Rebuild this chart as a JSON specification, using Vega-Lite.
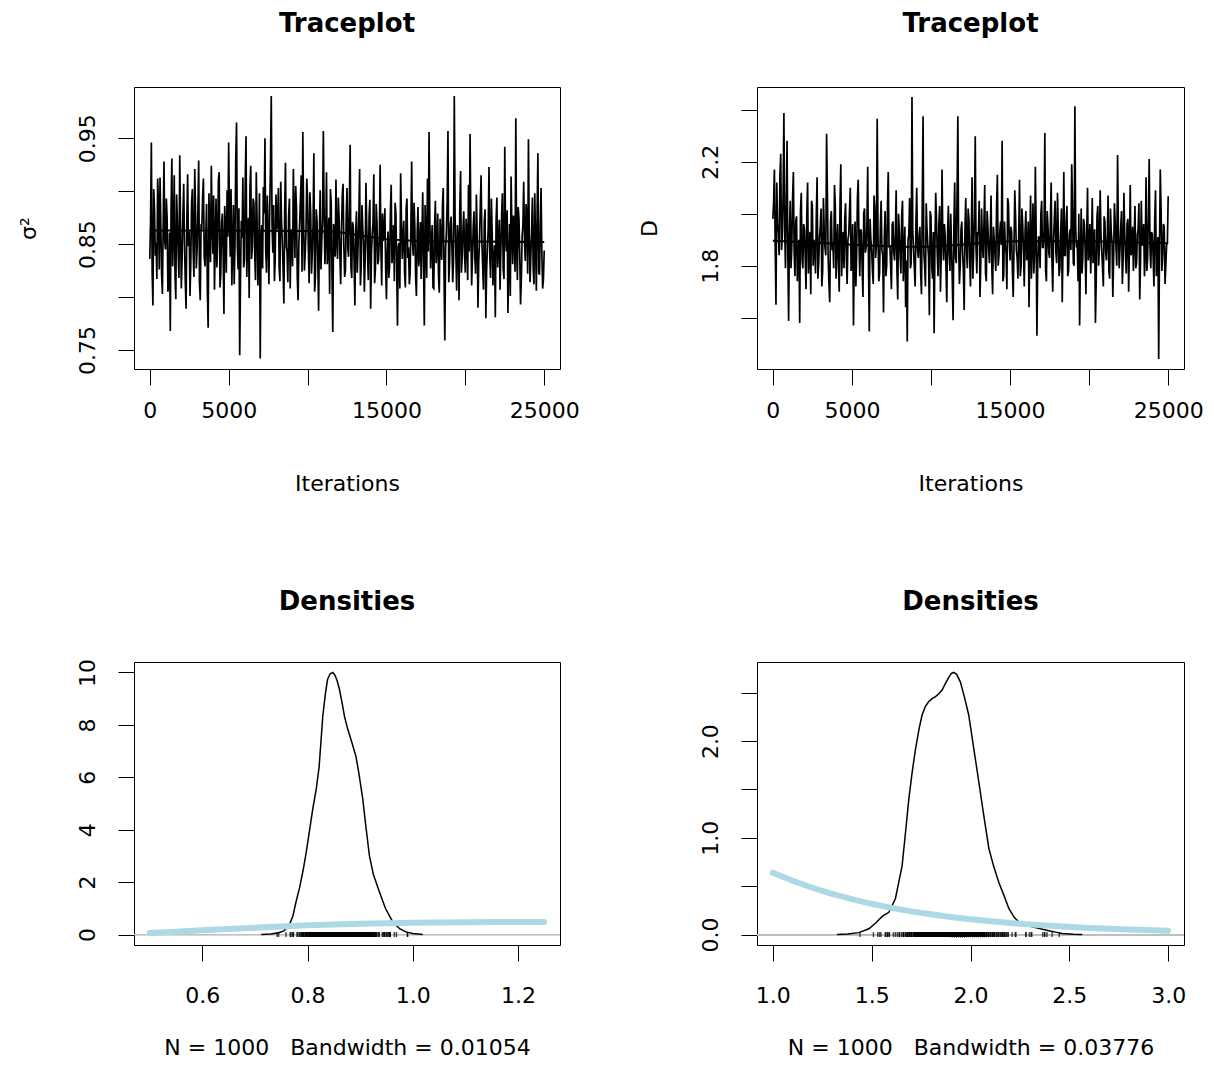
{
  "$schema": "https://vega.github.io/schema/vega-lite/v6.json",
  "background": "white",
  "padding": {"left": 16, "top": 10, "right": 5, "bottom": 5},
  "columns": 2,
  "spacing": {"row": 293, "column": 197},
  "bounds": "flush",
  "config": {
    "font": "DejaVu Sans",
    "view": {"stroke": "black", "strokeWidth": 1},
    "axis": {"domain": false, "grid": false, "tickColor": "black", "tickSize": 16, "tickWidth": 1, "labelFont": "DejaVu Sans", "labelFontSize": 22, "labelColor": "black", "titleFont": "DejaVu Sans", "titleFontSize": 22, "titleFontWeight": "normal", "titleColor": "black", "labelFlush": false, "labelOverlap": false, "labelBound": false},
    "axisX": {"labelBaseline": "alphabetic", "labelAlign": "center", "titleBaseline": "alphabetic", "titleAlign": "center"},
    "axisY": {"labelAngle": 270, "labelAlign": "center", "labelBaseline": "alphabetic", "labelPadding": 24, "titleAngle": 270, "titleAlign": "center", "titleBaseline": "alphabetic", "titleX": -99},
    "title": {"font": "DejaVu Sans", "fontSize": 26, "fontWeight": "bold", "color": "black", "baseline": "alphabetic", "offset": 50, "anchor": "middle"}
  },
  "datasets": {
    "trace": [
      {"i":0,"s":0.836,"d":1.98},{"i":100,"s":0.946,"d":2.17},{"i":200,"s":0.792,"d":1.65},{"i":300,"s":0.883,"d":1.96},{"i":400,"s":0.851,"d":1.84},{"i":500,"s":0.912,"d":2.23},{"i":600,"s":0.826,"d":1.91},{"i":700,"s":0.869,"d":2.387},{"i":800,"s":0.803,"d":1.79},{"i":900,"s":0.928,"d":2.28},
      {"i":1000,"s":0.845,"d":1.588},{"i":1100,"s":0.874,"d":2.05},{"i":1200,"s":0.812,"d":1.87},{"i":1300,"s":0.768,"d":2.16},{"i":1400,"s":0.931,"d":1.76},{"i":1500,"s":0.856,"d":1.99},{"i":1600,"s":0.821,"d":1.83},{"i":1700,"s":0.897,"d":1.58},{"i":1800,"s":0.842,"d":2.08},{"i":1900,"s":0.934,"d":1.79},
      {"i":2000,"s":0.808,"d":1.94},{"i":2100,"s":0.877,"d":1.71},{"i":2200,"s":0.851,"d":2.12},{"i":2300,"s":0.789,"d":1.85},{"i":2400,"s":0.916,"d":1.69},{"i":2500,"s":0.862,"d":2.03},{"i":2600,"s":0.833,"d":1.9},{"i":2700,"s":0.902,"d":1.77},{"i":2800,"s":0.819,"d":2.14},{"i":2900,"s":0.881,"d":1.81},
      {"i":3000,"s":0.846,"d":1.95},{"i":3100,"s":0.929,"d":1.72},{"i":3200,"s":0.797,"d":2.06},{"i":3300,"s":0.866,"d":1.87},{"i":3400,"s":0.912,"d":2.307},{"i":3500,"s":0.829,"d":1.83},{"i":3600,"s":0.888,"d":1.66},{"i":3700,"s":0.771,"d":2.01},{"i":3800,"s":0.858,"d":1.89},{"i":3900,"s":0.924,"d":2.11},
      {"i":4000,"s":0.841,"d":1.75},{"i":4100,"s":0.807,"d":1.96},{"i":4200,"s":0.893,"d":1.7},{"i":4300,"s":0.853,"d":2.19},{"i":4400,"s":0.918,"d":1.86},{"i":4500,"s":0.821,"d":1.79},{"i":4600,"s":0.879,"d":2.04},{"i":4700,"s":0.784,"d":1.73},{"i":4800,"s":0.864,"d":1.92},{"i":4900,"s":0.901,"d":2.1},
      {"i":5000,"s":0.946,"d":1.81},{"i":5100,"s":0.838,"d":1.57},{"i":5200,"s":0.811,"d":1.97},{"i":5300,"s":0.887,"d":1.84},{"i":5400,"s":0.849,"d":2.13},{"i":5500,"s":0.965,"d":1.76},{"i":5600,"s":0.826,"d":1.93},{"i":5700,"s":0.745,"d":1.68},{"i":5800,"s":0.872,"d":2.02},{"i":5900,"s":0.913,"d":1.87},
      {"i":6000,"s":0.835,"d":2.18},{"i":6100,"s":0.952,"d":1.547},{"i":6200,"s":0.861,"d":1.9},{"i":6300,"s":0.799,"d":1.78},{"i":6400,"s":0.924,"d":2.07},{"i":6500,"s":0.847,"d":1.83},{"i":6600,"s":0.889,"d":2.365},{"i":6700,"s":0.816,"d":1.74},{"i":6800,"s":0.871,"d":1.95},{"i":6900,"s":0.834,"d":1.86},
      {"i":7000,"s":0.742,"d":1.62},{"i":7100,"s":0.868,"d":2.01},{"i":7200,"s":0.904,"d":1.8},{"i":7300,"s":0.95,"d":2.16},{"i":7400,"s":0.823,"d":1.88},{"i":7500,"s":0.859,"d":1.71},{"i":7600,"s":0.881,"d":1.97},{"i":7700,"s":0.99,"d":1.82},{"i":7800,"s":0.842,"d":2.09},{"i":7900,"s":0.815,"d":1.67},
      {"i":8000,"s":0.897,"d":1.93},{"i":8100,"s":0.868,"d":1.77},{"i":8200,"s":0.828,"d":2.05},{"i":8300,"s":0.909,"d":1.85},{"i":8400,"s":0.851,"d":1.64},{"i":8500,"s":0.794,"d":1.509},{"i":8600,"s":0.927,"d":1.92},{"i":8700,"s":0.843,"d":1.79},{"i":8800,"s":0.876,"d":2.449},{"i":8900,"s":0.808,"d":1.86},
      {"i":9000,"s":0.864,"d":1.72},{"i":9100,"s":0.921,"d":2.1},{"i":9200,"s":0.837,"d":1.83},{"i":9300,"s":0.882,"d":1.95},{"i":9400,"s":0.797,"d":1.69},{"i":9500,"s":0.869,"d":2.375},{"i":9600,"s":0.915,"d":1.8},{"i":9700,"s":0.956,"d":2.04},{"i":9800,"s":0.825,"d":1.88},{"i":9900,"s":0.861,"d":1.61},
      {"i":10000,"s":0.894,"d":1.99},{"i":10100,"s":0.813,"d":1.75},{"i":10200,"s":0.878,"d":1.54},{"i":10300,"s":0.842,"d":2.08},{"i":10400,"s":0.936,"d":1.84},{"i":10500,"s":0.82,"d":1.96},{"i":10600,"s":0.872,"d":1.7},{"i":10700,"s":0.787,"d":2.17},{"i":10800,"s":0.901,"d":1.82},{"i":10900,"s":0.853,"d":1.91},
      {"i":11000,"s":0.957,"d":1.66},{"i":11100,"s":0.831,"d":2.03},{"i":11200,"s":0.918,"d":1.78},{"i":11300,"s":0.846,"d":1.87},{"i":11400,"s":0.803,"d":1.59},{"i":11500,"s":0.889,"d":2.12},{"i":11600,"s":0.767,"d":1.81},{"i":11700,"s":0.858,"d":2.375},{"i":11800,"s":0.911,"d":1.73},{"i":11900,"s":0.836,"d":1.94},
      {"i":12000,"s":0.874,"d":1.85},{"i":12100,"s":0.812,"d":1.63},{"i":12200,"s":0.896,"d":2.06},{"i":12300,"s":0.849,"d":1.79},{"i":12400,"s":0.825,"d":1.98},{"i":12500,"s":0.903,"d":1.72},{"i":12600,"s":0.838,"d":2.14},{"i":12700,"s":0.944,"d":1.86},{"i":12800,"s":0.818,"d":2.298},{"i":12900,"s":0.866,"d":1.77},
      {"i":13000,"s":0.792,"d":1.92},{"i":13100,"s":0.881,"d":1.68},{"i":13200,"s":0.847,"d":2.02},{"i":13300,"s":0.921,"d":1.83},{"i":13400,"s":0.829,"d":2.11},{"i":13500,"s":0.864,"d":1.74},{"i":13600,"s":0.805,"d":1.95},{"i":13700,"s":0.908,"d":1.81},{"i":13800,"s":0.842,"d":2.07},{"i":13900,"s":0.877,"d":1.69},
      {"i":14000,"s":0.789,"d":1.9},{"i":14100,"s":0.859,"d":1.78},{"i":14200,"s":0.916,"d":2.15},{"i":14300,"s":0.826,"d":1.84},{"i":14400,"s":0.871,"d":1.97},{"i":14500,"s":0.835,"d":2.28},{"i":14600,"s":0.925,"d":1.76},{"i":14700,"s":0.811,"d":1.88},{"i":14800,"s":0.853,"d":1.71},{"i":14900,"s":0.884,"d":2.04},
      {"i":15000,"s":0.798,"d":1.82},{"i":15100,"s":0.862,"d":1.93},{"i":15200,"s":0.829,"d":1.68},{"i":15300,"s":0.906,"d":2.09},{"i":15400,"s":0.844,"d":1.86},{"i":15500,"s":0.815,"d":1.75},{"i":15600,"s":0.879,"d":2.13},{"i":15700,"s":0.773,"d":1.8},{"i":15800,"s":0.851,"d":1.96},{"i":15900,"s":0.917,"d":1.72},
      {"i":16000,"s":0.836,"d":2.01},{"i":16100,"s":0.872,"d":1.85},{"i":16200,"s":0.809,"d":1.64},{"i":16300,"s":0.893,"d":2.07},{"i":16400,"s":0.847,"d":1.89},{"i":16500,"s":0.822,"d":1.77},{"i":16600,"s":0.928,"d":2.18},{"i":16700,"s":0.839,"d":1.531},{"i":16800,"s":0.866,"d":1.91},{"i":16900,"s":0.801,"d":1.79},
      {"i":17000,"s":0.885,"d":2.05},{"i":17100,"s":0.843,"d":1.87},{"i":17200,"s":0.817,"d":2.31},{"i":17300,"s":0.899,"d":1.74},{"i":17400,"s":0.773,"d":1.95},{"i":17500,"s":0.856,"d":1.83},{"i":17600,"s":0.912,"d":2.12},{"i":17700,"s":0.956,"d":1.7},{"i":17800,"s":0.827,"d":1.98},{"i":17900,"s":0.868,"d":1.85},
      {"i":18000,"s":0.808,"d":2.08},{"i":18100,"s":0.891,"d":1.76},{"i":18200,"s":0.845,"d":1.92},{"i":18300,"s":0.82,"d":1.66},{"i":18400,"s":0.874,"d":2.16},{"i":18500,"s":0.835,"d":1.84},{"i":18600,"s":0.903,"d":2.03},{"i":18700,"s":0.759,"d":1.78},{"i":18800,"s":0.861,"d":1.94},{"i":18900,"s":0.957,"d":2.19},
      {"i":19000,"s":0.832,"d":1.81},{"i":19100,"s":0.876,"d":2.413},{"i":19200,"s":0.814,"d":1.87},{"i":19300,"s":0.99,"d":1.74},{"i":19400,"s":0.841,"d":1.57},{"i":19500,"s":0.868,"d":2.02},{"i":19600,"s":0.797,"d":1.83},{"i":19700,"s":0.919,"d":1.96},{"i":19800,"s":0.837,"d":1.69},{"i":19900,"s":0.881,"d":2.1},
      {"i":20000,"s":0.823,"d":1.85},{"i":20100,"s":0.858,"d":1.77},{"i":20200,"s":0.906,"d":2.06},{"i":20300,"s":0.954,"d":1.88},{"i":20400,"s":0.811,"d":1.58},{"i":20500,"s":0.866,"d":1.99},{"i":20600,"s":0.838,"d":1.8},{"i":20700,"s":0.897,"d":2.09},{"i":20800,"s":0.79,"d":1.86},{"i":20900,"s":0.853,"d":1.72},
      {"i":21000,"s":0.915,"d":1.97},{"i":21100,"s":0.829,"d":1.82},{"i":21200,"s":0.871,"d":2.07},{"i":21300,"s":0.78,"d":1.75},{"i":21400,"s":0.847,"d":1.93},{"i":21500,"s":0.923,"d":1.68},{"i":21600,"s":0.818,"d":2.04},{"i":21700,"s":0.862,"d":1.87},{"i":21800,"s":0.835,"d":2.226},{"i":21900,"s":0.781,"d":1.79},
      {"i":22000,"s":0.894,"d":1.95},{"i":22100,"s":0.851,"d":1.73},{"i":22200,"s":0.807,"d":2.08},{"i":22300,"s":0.878,"d":1.84},{"i":22400,"s":0.826,"d":1.96},{"i":22500,"s":0.942,"d":1.7},{"i":22600,"s":0.843,"d":2.11},{"i":22700,"s":0.785,"d":1.86},{"i":22800,"s":0.869,"d":1.78},{"i":22900,"s":0.914,"d":2.03},
      {"i":23000,"s":0.831,"d":1.81},{"i":23100,"s":0.858,"d":1.94},{"i":23200,"s":0.969,"d":1.67},{"i":23300,"s":0.816,"d":2.05},{"i":23400,"s":0.874,"d":1.88},{"i":23500,"s":0.793,"d":1.76},{"i":23600,"s":0.857,"d":2.14},{"i":23700,"s":0.909,"d":1.83},{"i":23800,"s":0.834,"d":2.21},{"i":23900,"s":0.871,"d":1.79},
      {"i":24000,"s":0.949,"d":1.92},{"i":24100,"s":0.814,"d":1.72},{"i":24200,"s":0.862,"d":2.09},{"i":24300,"s":0.827,"d":1.85},{"i":24400,"s":0.898,"d":1.441},{"i":24500,"s":0.806,"d":2.17},{"i":24600,"s":0.936,"d":1.78},{"i":24700,"s":0.821,"d":1.96},{"i":24800,"s":0.903,"d":1.73},{"i":24900,"s":0.808,"d":1.88},
      {"i":25000,"s":0.844,"d":2.067},
      {"i":50,"s":0.871,"d":2.04},{"i":150,"s":0.824,"d":1.88},{"i":250,"s":0.902,"d":2.12},{"i":350,"s":0.839,"d":1.93},{"i":450,"s":0.817,"d":2.15},{"i":550,"s":0.887,"d":1.86},{"i":650,"s":0.913,"d":2.07},{"i":750,"s":0.821,"d":1.95},{"i":850,"s":0.868,"d":2.02},{"i":950,"s":0.852,"d":1.84},
      {"i":1050,"s":0.893,"d":1.92},{"i":1150,"s":0.805,"d":1.79},{"i":1250,"s":0.861,"d":2.06},{"i":1350,"s":0.884,"d":1.85},{"i":1450,"s":0.829,"d":1.97},{"i":1550,"s":0.915,"d":1.74},{"i":1650,"s":0.798,"d":1.9},{"i":1750,"s":0.872,"d":2.01},{"i":1850,"s":0.818,"d":1.82},{"i":1950,"s":0.866,"d":1.96},
      {"i":2050,"s":0.836,"d":1.83},{"i":2150,"s":0.907,"d":2.0},{"i":2250,"s":0.815,"d":1.77},{"i":2350,"s":0.874,"d":1.93},{"i":2450,"s":0.848,"d":2.05},{"i":2550,"s":0.801,"d":1.8},{"i":2650,"s":0.889,"d":1.88},{"i":2750,"s":0.843,"d":1.99},{"i":2850,"s":0.921,"d":1.75},{"i":2950,"s":0.827,"d":1.91},
      {"i":3050,"s":0.882,"d":2.02},{"i":3150,"s":0.814,"d":1.78},{"i":3250,"s":0.867,"d":1.94},{"i":3350,"s":0.895,"d":1.84},{"i":3450,"s":0.838,"d":2.08},{"i":3550,"s":0.859,"d":1.73},{"i":3650,"s":0.806,"d":1.97},{"i":3750,"s":0.898,"d":1.86},{"i":3850,"s":0.833,"d":1.79},{"i":3950,"s":0.871,"d":2.03},
      {"i":4050,"s":0.896,"d":1.87},{"i":4150,"s":0.852,"d":1.81},{"i":4250,"s":0.828,"d":2.04},{"i":4350,"s":0.911,"d":1.76},{"i":4450,"s":0.809,"d":1.93},{"i":4550,"s":0.869,"d":1.98},{"i":4650,"s":0.842,"d":1.83},{"i":4750,"s":0.886,"d":1.9},{"i":4850,"s":0.823,"d":2.01},{"i":4950,"s":0.857,"d":1.78},
      {"i":5050,"s":0.878,"d":1.96},{"i":5150,"s":0.902,"d":1.84},{"i":5250,"s":0.846,"d":1.72},{"i":5350,"s":0.812,"d":2.06},{"i":5450,"s":0.931,"d":1.89},{"i":5550,"s":0.848,"d":1.94},{"i":5650,"s":0.884,"d":1.79},{"i":5750,"s":0.817,"d":2.0},{"i":5850,"s":0.856,"d":1.85},{"i":5950,"s":0.828,"d":1.95},
      {"i":6050,"s":0.909,"d":1.81},{"i":6150,"s":0.819,"d":1.98},{"i":6250,"s":0.875,"d":1.86},{"i":6350,"s":0.904,"d":1.73},{"i":6450,"s":0.836,"d":2.02},{"i":6550,"s":0.893,"d":1.88},{"i":6650,"s":0.842,"d":1.93},{"i":6750,"s":0.918,"d":1.77},{"i":6850,"s":0.811,"d":2.05},{"i":6950,"s":0.898,"d":1.84},
      {"i":7050,"s":0.853,"d":1.91},{"i":7150,"s":0.827,"d":1.76},{"i":7250,"s":0.879,"d":2.03},{"i":7350,"s":0.844,"d":1.87},{"i":7450,"s":0.896,"d":1.8},{"i":7550,"s":0.812,"d":1.96},{"i":7650,"s":0.925,"d":1.85},{"i":7750,"s":0.868,"d":1.92},{"i":7850,"s":0.887,"d":1.78},{"i":7950,"s":0.836,"d":2.0},
      {"i":8050,"s":0.864,"d":1.84},{"i":8150,"s":0.903,"d":1.99},{"i":8250,"s":0.815,"d":1.74},{"i":8350,"s":0.872,"d":1.95},{"i":8450,"s":0.826,"d":1.82},{"i":8550,"s":0.881,"d":1.9},{"i":8650,"s":0.847,"d":2.06},{"i":8750,"s":0.814,"d":1.81},{"i":8850,"s":0.893,"d":1.93},{"i":8950,"s":0.858,"d":1.79},
      {"i":9050,"s":0.829,"d":1.97},{"i":9150,"s":0.876,"d":1.86},{"i":9250,"s":0.905,"d":1.91},{"i":9350,"s":0.818,"d":1.77},{"i":9450,"s":0.851,"d":2.04},{"i":9550,"s":0.893,"d":1.85},{"i":9650,"s":0.824,"d":1.72},{"i":9750,"s":0.874,"d":1.94},{"i":9850,"s":0.841,"d":1.83},{"i":9950,"s":0.912,"d":2.01},
      {"i":10050,"s":0.846,"d":1.8},{"i":10150,"s":0.899,"d":1.93},{"i":10250,"s":0.822,"d":1.87},{"i":10350,"s":0.868,"d":1.98},{"i":10450,"s":0.805,"d":1.76},{"i":10550,"s":0.883,"d":2.03},{"i":10650,"s":0.836,"d":1.84},{"i":10750,"s":0.861,"d":1.9},{"i":10850,"s":0.826,"d":1.96},{"i":10950,"s":0.874,"d":1.79},
      {"i":11050,"s":0.882,"d":1.92},{"i":11150,"s":0.855,"d":1.85},{"i":11250,"s":0.831,"d":2.0},{"i":11350,"s":0.875,"d":1.74},{"i":11450,"s":0.902,"d":1.95},{"i":11550,"s":0.818,"d":1.83},{"i":11650,"s":0.869,"d":2.07},{"i":11750,"s":0.838,"d":1.88},{"i":11850,"s":0.853,"d":1.8},{"i":11950,"s":0.894,"d":1.97},
      {"i":12050,"s":0.838,"d":1.78},{"i":12150,"s":0.862,"d":1.94},{"i":12250,"s":0.907,"d":1.86},{"i":12350,"s":0.819,"d":2.02},{"i":12450,"s":0.876,"d":1.82},{"i":12550,"s":0.846,"d":1.91},{"i":12650,"s":0.889,"d":1.75},{"i":12750,"s":0.828,"d":1.99},{"i":12850,"s":0.871,"d":1.87},{"i":12950,"s":0.833,"d":1.93},
      {"i":13050,"s":0.859,"d":2.05},{"i":13150,"s":0.823,"d":1.81},{"i":13250,"s":0.874,"d":1.89},{"i":13350,"s":0.811,"d":1.96},{"i":13450,"s":0.887,"d":1.77},{"i":13550,"s":0.852,"d":2.01},{"i":13650,"s":0.835,"d":1.86},{"i":13750,"s":0.868,"d":1.92},{"i":13850,"s":0.816,"d":1.79},{"i":13950,"s":0.892,"d":1.95},
      {"i":14050,"s":0.842,"d":1.84},{"i":14150,"s":0.871,"d":2.03},{"i":14250,"s":0.813,"d":1.8},{"i":14350,"s":0.888,"d":1.93},{"i":14450,"s":0.831,"d":1.88},{"i":14550,"s":0.856,"d":1.74},{"i":14650,"s":0.846,"d":1.97},{"i":14750,"s":0.879,"d":1.85},{"i":14850,"s":0.862,"d":2.06},{"i":14950,"s":0.827,"d":1.9},
      {"i":15050,"s":0.844,"d":1.95},{"i":15150,"s":0.818,"d":1.78},{"i":15250,"s":0.879,"d":1.87},{"i":15350,"s":0.832,"d":1.99},{"i":15450,"s":0.868,"d":1.83},{"i":15550,"s":0.889,"d":1.92},{"i":15650,"s":0.826,"d":1.76},{"i":15750,"s":0.848,"d":2.02},{"i":15850,"s":0.808,"d":1.86},{"i":15950,"s":0.874,"d":1.93},
      {"i":16050,"s":0.857,"d":1.82},{"i":16150,"s":0.823,"d":1.97},{"i":16250,"s":0.884,"d":1.89},{"i":16350,"s":0.837,"d":1.75},{"i":16450,"s":0.812,"d":2.04},{"i":16550,"s":0.866,"d":1.84},{"i":16650,"s":0.852,"d":1.94},{"i":16750,"s":0.889,"d":1.8},{"i":16850,"s":0.819,"d":1.91},{"i":16950,"s":0.861,"d":2.0},
      {"i":17050,"s":0.829,"d":1.87},{"i":17150,"s":0.871,"d":1.93},{"i":17250,"s":0.856,"d":1.78},{"i":17350,"s":0.834,"d":2.01},{"i":17450,"s":0.887,"d":1.85},{"i":17550,"s":0.818,"d":1.96},{"i":17650,"s":0.843,"d":1.82},{"i":17750,"s":0.873,"d":1.9},{"i":17850,"s":0.852,"d":2.05},{"i":17950,"s":0.809,"d":1.81},
      {"i":18050,"s":0.866,"d":1.94},{"i":18150,"s":0.832,"d":1.79},{"i":18250,"s":0.879,"d":2.02},{"i":18350,"s":0.804,"d":1.88},{"i":18450,"s":0.851,"d":1.84},{"i":18550,"s":0.887,"d":1.97},{"i":18650,"s":0.821,"d":1.76},{"i":18750,"s":0.846,"d":1.92},{"i":18850,"s":0.891,"d":1.86},{"i":18950,"s":0.814,"d":2.03},
      {"i":19050,"s":0.869,"d":1.8},{"i":19150,"s":0.848,"d":1.95},{"i":19250,"s":0.835,"d":1.89},{"i":19350,"s":0.877,"d":2.0},{"i":19450,"s":0.806,"d":1.83},{"i":19550,"s":0.856,"d":1.77},{"i":19650,"s":0.885,"d":1.98},{"i":19750,"s":0.823,"d":1.86},{"i":19850,"s":0.864,"d":1.93},{"i":19950,"s":0.841,"d":1.82},
      {"i":20050,"s":0.874,"d":1.96},{"i":20150,"s":0.816,"d":1.88},{"i":20250,"s":0.843,"d":1.81},{"i":20350,"s":0.868,"d":1.94},{"i":20450,"s":0.837,"d":1.75},{"i":20550,"s":0.881,"d":2.03},{"i":20650,"s":0.822,"d":1.87},{"i":20750,"s":0.859,"d":1.92},{"i":20850,"s":0.834,"d":1.79},{"i":20950,"s":0.887,"d":1.99},
      {"i":21050,"s":0.852,"d":1.85},{"i":21150,"s":0.807,"d":1.91},{"i":21250,"s":0.883,"d":1.78},{"i":21350,"s":0.826,"d":2.02},{"i":21450,"s":0.864,"d":1.89},{"i":21550,"s":0.839,"d":1.83},{"i":21650,"s":0.893,"d":1.97},{"i":21750,"s":0.811,"d":1.8},{"i":21850,"s":0.849,"d":1.94},{"i":21950,"s":0.872,"d":1.86},
      {"i":22050,"s":0.828,"d":2.01},{"i":22150,"s":0.873,"d":1.82},{"i":22250,"s":0.844,"d":1.93},{"i":22350,"s":0.898,"d":1.77},{"i":22450,"s":0.817,"d":1.98},{"i":22550,"s":0.856,"d":1.87},{"i":22650,"s":0.882,"d":1.84},{"i":22750,"s":0.834,"d":1.95},{"i":22850,"s":0.801,"d":1.9},{"i":22950,"s":0.863,"d":1.79},
      {"i":23050,"s":0.877,"d":1.92},{"i":23150,"s":0.824,"d":2.04},{"i":23250,"s":0.846,"d":1.81},{"i":23350,"s":0.885,"d":1.88},{"i":23450,"s":0.839,"d":1.96},{"i":23550,"s":0.816,"d":1.85},{"i":23650,"s":0.869,"d":1.78},{"i":23750,"s":0.853,"d":2.0},{"i":23850,"s":0.888,"d":1.87},{"i":23950,"s":0.822,"d":1.93},
      {"i":24050,"s":0.861,"d":1.83},{"i":24150,"s":0.838,"d":1.98},{"i":24250,"s":0.894,"d":1.76},{"i":24350,"s":0.812,"d":1.91},{"i":24450,"s":0.851,"d":1.86},{"i":24550,"s":0.879,"d":2.02},{"i":24650,"s":0.823,"d":1.84},{"i":24750,"s":0.866,"d":1.95},{"i":24850,"s":0.841,"d":1.8},{"i":24950,"s":0.817,"d":1.89}
    ],
    "smooth1": [
      {"i":0,"s":0.8628},{"i":5000,"s":0.8628},{"i":10000,"s":0.8625},{"i":12000,"s":0.8615},{"i":13500,"s":0.858},{"i":15000,"s":0.8545},{"i":17000,"s":0.853},{"i":20000,"s":0.8525},{"i":25000,"s":0.852}
    ],
    "smooth2": [
      {"i":0,"d":1.896},{"i":2500,"d":1.889},{"i":5000,"d":1.881},{"i":8000,"d":1.873},{"i":10000,"d":1.873},{"i":12000,"d":1.882},{"i":14000,"d":1.891},{"i":16000,"d":1.895},{"i":20000,"d":1.894},{"i":25000,"d":1.886}
    ],
    "dens1": [
      {"x":0.712,"y":0},{"x":0.73,"y":0.02},{"x":0.745,"y":0.07},{"x":0.755,"y":0.14},{"x":0.765,"y":0.35},{"x":0.772,"y":0.7},{"x":0.778,"y":1.24},{"x":0.785,"y":1.8},{"x":0.792,"y":2.5},{"x":0.798,"y":3.2},{"x":0.804,"y":4.0},{"x":0.81,"y":4.8},{"x":0.8165,"y":5.55},{"x":0.822,"y":6.4},{"x":0.829,"y":8.34},{"x":0.834,"y":9.2},{"x":0.838,"y":9.73},{"x":0.843,"y":9.95},{"x":0.848,"y":10.0},{"x":0.852,"y":9.9},{"x":0.856,"y":9.7},{"x":0.8607,"y":9.35},{"x":0.866,"y":8.8},{"x":0.8705,"y":8.3},{"x":0.8765,"y":7.83},{"x":0.884,"y":7.35},{"x":0.892,"y":6.8},{"x":0.898,"y":6.1},{"x":0.905,"y":5.17},{"x":0.911,"y":4.1},{"x":0.9177,"y":3.0},{"x":0.925,"y":2.3},{"x":0.9367,"y":1.62},{"x":0.948,"y":1.0},{"x":0.962,"y":0.48},{"x":0.975,"y":0.22},{"x":0.987,"y":0.1},{"x":1.0,"y":0.04},{"x":1.019,"y":0}
    ],
    "dens2": [
      {"x":1.325,"y":0},{"x":1.38,"y":0.005},{"x":1.435,"y":0.02},{"x":1.486,"y":0.06},{"x":1.52,"y":0.12},{"x":1.555,"y":0.19},{"x":1.587,"y":0.23},{"x":1.62,"y":0.37},{"x":1.654,"y":0.71},{"x":1.671,"y":1.05},{"x":1.688,"y":1.4},{"x":1.705,"y":1.68},{"x":1.722,"y":1.92},{"x":1.74,"y":2.13},{"x":1.755,"y":2.27},{"x":1.772,"y":2.36},{"x":1.789,"y":2.41},{"x":1.806,"y":2.44},{"x":1.823,"y":2.46},{"x":1.84,"y":2.49},{"x":1.857,"y":2.53},{"x":1.874,"y":2.6},{"x":1.89,"y":2.66},{"x":1.903,"y":2.7},{"x":1.915,"y":2.71},{"x":1.93,"y":2.69},{"x":1.949,"y":2.61},{"x":1.97,"y":2.45},{"x":1.991,"y":2.27},{"x":2.016,"y":1.93},{"x":2.042,"y":1.58},{"x":2.068,"y":1.22},{"x":2.093,"y":0.89},{"x":2.118,"y":0.7},{"x":2.143,"y":0.54},{"x":2.17,"y":0.4},{"x":2.194,"y":0.27},{"x":2.22,"y":0.18},{"x":2.244,"y":0.13},{"x":2.28,"y":0.1},{"x":2.312,"y":0.08},{"x":2.355,"y":0.06},{"x":2.396,"y":0.04},{"x":2.43,"y":0.025},{"x":2.463,"y":0.01},{"x":2.52,"y":0.003},{"x":2.565,"y":0}
    ],
    "prior1": [
      {"x":0.5,"y":0.06},{"x":0.55,"y":0.11},{"x":0.6,"y":0.16},{"x":0.65,"y":0.21},{"x":0.7,"y":0.26},{"x":0.75,"y":0.31},{"x":0.8,"y":0.35},{"x":0.85,"y":0.38},{"x":0.9,"y":0.41},{"x":0.95,"y":0.43},{"x":1.0,"y":0.445},{"x":1.05,"y":0.457},{"x":1.1,"y":0.466},{"x":1.15,"y":0.473},{"x":1.2,"y":0.478},{"x":1.25,"y":0.482}
    ],
    "prior2": [
      {"x":1.0,"y":0.64},{"x":1.1,"y":0.556},{"x":1.2,"y":0.484},{"x":1.3,"y":0.42},{"x":1.4,"y":0.366},{"x":1.5,"y":0.318},{"x":1.6,"y":0.276},{"x":1.7,"y":0.24},{"x":1.8,"y":0.209},{"x":1.9,"y":0.182},{"x":2.0,"y":0.158},{"x":2.2,"y":0.119},{"x":2.4,"y":0.09},{"x":2.6,"y":0.068},{"x":2.8,"y":0.051},{"x":3.0,"y":0.039}
    ]
  },
  "concat": [
    {
      "width": 426, "height": 282,
      "title": "Traceplot",
      "layer": [
        {
          "data": {"name": "trace"},
          "mark": {"type": "line", "color": "black", "strokeWidth": 1.7, "clip": true},
          "encoding": {
            "x": {"field": "i", "type": "quantitative", "scale": {"domain": [-1000, 26000], "nice": false, "zero": false},
                  "axis": {"title": "Iterations", "values": [0, 5000, 10000, 15000, 20000, 25000], "labelPadding": 32, "titleY": 121,
                           "labelExpr": "datum.value == 10000 || datum.value == 20000 ? '' : format(datum.value, 'd')"}},
            "y": {"field": "s", "type": "quantitative", "scale": {"domain": [0.732, 0.9985], "nice": false, "zero": false},
                  "axis": {"title": "σ²", "values": [0.75, 0.8, 0.85, 0.9, 0.95],
                           "labelExpr": "abs(datum.value - 0.8) < 0.001 || abs(datum.value - 0.9) < 0.001 ? '' : format(datum.value, '.2f')"}}
          }
        },
        {
          "data": {"name": "smooth1"},
          "mark": {"type": "line", "color": "black", "strokeWidth": 2, "clip": true},
          "encoding": {
            "x": {"field": "i", "type": "quantitative", "axis": {"title": "Iterations"}},
            "y": {"field": "s", "type": "quantitative", "axis": {"title": "σ²"}}
          }
        }
      ]
    },
    {
      "width": 427, "height": 282,
      "title": "Traceplot",
      "layer": [
        {
          "data": {"name": "trace"},
          "mark": {"type": "line", "color": "black", "strokeWidth": 1.7, "clip": true},
          "encoding": {
            "x": {"field": "i", "type": "quantitative", "scale": {"domain": [-1000, 26000], "nice": false, "zero": false},
                  "axis": {"title": "Iterations", "values": [0, 5000, 10000, 15000, 20000, 25000], "labelPadding": 32, "titleY": 121,
                           "labelExpr": "datum.value == 10000 || datum.value == 20000 ? '' : format(datum.value, 'd')"}},
            "y": {"field": "d", "type": "quantitative", "scale": {"domain": [1.403, 2.487], "nice": false, "zero": false},
                  "axis": {"title": "D", "titleX": -101, "values": [1.4, 1.6, 1.8, 2.0, 2.2, 2.4],
                           "labelExpr": "abs(datum.value - 1.4) < 0.001 || abs(datum.value - 1.8) < 0.001 || abs(datum.value - 2.2) < 0.001 ? format(datum.value, '.1f') : ''"}}
          }
        },
        {
          "data": {"name": "smooth2"},
          "mark": {"type": "line", "color": "black", "strokeWidth": 2, "clip": true},
          "encoding": {
            "x": {"field": "i", "type": "quantitative", "axis": {"title": "Iterations"}},
            "y": {"field": "d", "type": "quantitative", "axis": {"title": "D"}}
          }
        }
      ]
    },
    {
      "width": 426, "height": 283,
      "title": {"text": "Densities", "offset": 43},
      "layer": [
        {
          "data": {"name": "dens1"},
          "mark": {"type": "rule", "color": "#BEBEBE", "strokeWidth": 1},
          "encoding": {"y": {"datum": 0, "type": "quantitative"}}
        },
        {
          "data": {"name": "dens1"},
          "mark": {"type": "line", "color": "black", "strokeWidth": 1.5, "clip": true},
          "encoding": {
            "x": {"field": "x", "type": "quantitative", "scale": {"domain": [0.47, 1.28], "nice": false, "zero": false},
                  "axis": {"title": "N = 1000\u00a0\u00a0\u00a0Bandwidth = 0.01054", "values": [0.6, 0.8, 1.0, 1.2], "format": ".1f", "labelPadding": 41, "titleY": 109}},
            "y": {"field": "y", "type": "quantitative", "scale": {"domain": [-0.4, 10.4], "nice": false, "zero": false},
                  "axis": {"title": null, "values": [0, 2, 4, 6, 8, 10], "format": "d"}}
          }
        },
        {
          "data": {"name": "prior1"},
          "mark": {"type": "line", "color": "#ADD8E6", "strokeWidth": 6, "strokeCap": "round", "clip": true},
          "encoding": {
            "x": {"field": "x", "type": "quantitative"},
            "y": {"field": "y", "type": "quantitative"}
          }
        },
        {
          "data": {"name": "trace"},
          "mark": {"type": "tick", "color": "black", "orient": "vertical", "size": 5, "thickness": 1.5, "clip": true},
          "encoding": {
            "x": {"field": "s", "type": "quantitative", "axis": {"title": "N = 1000\u00a0\u00a0\u00a0Bandwidth = 0.01054"}},
            "y": {"datum": 0, "type": "quantitative"}
          }
        }
      ]
    },
    {
      "width": 427, "height": 283,
      "title": {"text": "Densities", "offset": 47},
      "layer": [
        {
          "data": {"name": "dens2"},
          "mark": {"type": "rule", "color": "#BEBEBE", "strokeWidth": 1},
          "encoding": {"y": {"datum": 0, "type": "quantitative"}}
        },
        {
          "data": {"name": "dens2"},
          "mark": {"type": "line", "color": "black", "strokeWidth": 1.5, "clip": true},
          "encoding": {
            "x": {"field": "x", "type": "quantitative", "scale": {"domain": [0.92, 3.08], "nice": false, "zero": false},
                  "axis": {"title": "N = 1000\u00a0\u00a0\u00a0Bandwidth = 0.03776", "values": [1.0, 1.5, 2.0, 2.5, 3.0], "format": ".1f", "labelPadding": 41, "titleY": 109}},
            "y": {"field": "y", "type": "quantitative", "scale": {"domain": [-0.108, 2.818], "nice": false, "zero": false},
                  "axis": {"title": null, "values": [0, 0.5, 1.0, 1.5, 2.0, 2.5],
                           "labelExpr": "abs(datum.value - 0.5) < 0.001 || abs(datum.value - 1.5) < 0.001 || abs(datum.value - 2.5) < 0.001 ? '' : format(datum.value, '.1f')"}}
          }
        },
        {
          "data": {"name": "prior2"},
          "mark": {"type": "line", "color": "#ADD8E6", "strokeWidth": 6, "strokeCap": "round", "clip": true},
          "encoding": {
            "x": {"field": "x", "type": "quantitative"},
            "y": {"field": "y", "type": "quantitative"}
          }
        },
        {
          "data": {"name": "trace"},
          "mark": {"type": "tick", "color": "black", "orient": "vertical", "size": 5, "thickness": 1.5, "clip": true},
          "encoding": {
            "x": {"field": "d", "type": "quantitative", "axis": {"title": "N = 1000\u00a0\u00a0\u00a0Bandwidth = 0.03776"}},
            "y": {"datum": 0, "type": "quantitative"}
          }
        }
      ]
    }
  ]
}
